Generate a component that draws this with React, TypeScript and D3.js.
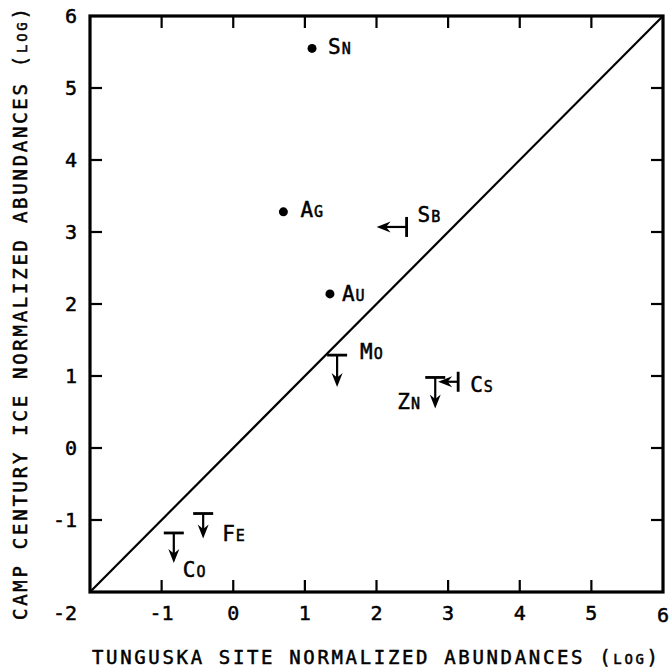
import React from 'react';
import * as d3 from 'd3';

// elements, log normalized abundances
const elements = ['Sn', 'Ag', 'Sb', 'Au', 'Mo', 'Cs', 'Zn', 'Fe', 'Co'];
const tunguska = [1.1, 0.7, 2.42, 1.35, 1.45, 3.14, 2.82, -0.42, -0.83];
const campCentury = [5.55, 3.28, 3.07, 2.14, 1.29, 0.92, 0.98, -0.91, -1.18];
// point = measured, xUpper = upper limit on tunguska, yUpper = upper limit on ice
const limitKind = ['point', 'point', 'xUpper', 'point', 'yUpper', 'xUpper', 'yUpper', 'yUpper', 'yUpper'];

const xTicks = [-1, 0, 1, 2, 3, 4, 5];
const yTicks = [-1, 0, 1, 2, 3, 4, 5];
const tickLabels = ['-1', '0', '1', '2', '3', '4', '5'];

// layout for annotations (pixels)
const labelOffsets = [[16, 6], [17, 5], [11, -5], [12, 7], [23, 4], [12, 10], [-38, 32], [19, 27], [9, 44]];
const arrowLen = [0, 0, 30, 0, 32, 20, 31, 25, 30];

const width = 672;
const height = 670;
const font = '"DejaVu Sans Mono", monospace';

const x = d3.scaleLinear().domain([-2, 6]).range([90, 663]);
const y = d3.scaleLinear().domain([-2, 6]).range([592, 16]);

const head = 'M0,0 L-5.5,-14 L0,-9.5 L5.5,-14 Z'; // points down, tip at origin

const Marker = ({ i }: { i: number }) => {
  const px = x(tunguska[i]);
  const py = y(campCentury[i]);
  const kind = limitKind[i];
  const len = arrowLen[i];
  if (kind === 'point') return <circle cx={px} cy={py} r={4.5} fill="#000" />;
  if (kind === 'yUpper') {
    return (
      <g stroke="#000">
        <line x1={px - 10} x2={px + 10} y1={py} y2={py} strokeWidth={2.8} />
        <line x1={px} x2={px} y1={py} y2={py + len - 6} strokeWidth={2.2} />
        <path d={head} transform={`translate(${px},${py + len})`} fill="#000" stroke="none" />
      </g>
    );
  }
  return (
    <g stroke="#000">
      <line x1={px} x2={px} y1={py - 10} y2={py + 10} strokeWidth={2.8} />
      <line x1={px} x2={px - len + 6} y1={py} y2={py} strokeWidth={2.2} />
      <path d={head} transform={`translate(${px - len},${py}) rotate(90)`} fill="#000" stroke="none" />
    </g>
  );
};

export default function App() {
  const x0 = x(-2), x1 = x(6), y0 = y(-2), y1 = y(6);
  const tl = 12;
  return (
    <svg width={width} height={height} style={{ position: 'absolute', left: 0, top: 0, background: '#fff' }}
      fontFamily={font}>
      <rect width={width} height={height} fill="#fff" />
      {/* frame */}
      <rect x={x0} y={y1} width={x1 - x0} height={y0 - y1} fill="none" stroke="#000" strokeWidth={3.2} />
      {/* ticks */}
      <g stroke="#000" strokeWidth={2.2}>
        {xTicks.map(t => (
          <g key={'x' + t}>
            <line x1={x(t)} x2={x(t)} y1={y0} y2={y0 - tl} />
            <line x1={x(t)} x2={x(t)} y1={y1} y2={y1 + tl} />
          </g>
        ))}
        {yTicks.map(t => (
          <g key={'y' + t}>
            <line x1={x0} x2={x0 + tl} y1={y(t)} y2={y(t)} />
            <line x1={x1} x2={x1 - tl} y1={y(t)} y2={y(t)} />
          </g>
        ))}
      </g>
      {/* 1:1 line */}
      <line x1={x(-2)} y1={y(-2)} x2={x(6)} y2={y(6)} stroke="#000" strokeWidth={2.2} />
      {/* tick labels */}
      <g fontSize={20} fill="#000" stroke="#000" strokeWidth={0.5}>
        {xTicks.map((t, i) => (
          <text key={'xl' + t} x={x(t)} y={620} textAnchor="middle">{tickLabels[i]}</text>
        ))}
        <text x={x(6)} y={622} textAnchor="middle">6</text>
        {yTicks.map((t, i) => (
          <text key={'yl' + t} x={77} y={y(t)} dy="0.36em" textAnchor="end">{tickLabels[i]}</text>
        ))}
        <text x={77} y={y(6)} dy="0.36em" textAnchor="end">6</text>
        <text x={77} y={620} textAnchor="end">-2</text>
      </g>
      {/* marks */}
      {elements.map((_, i) => <Marker key={i} i={i} />)}
      {/* labels */}
      <g fill="#000" stroke="#000" strokeWidth={0.5}>
        {elements.map((el, i) => (
          <text key={'lab' + el} x={x(tunguska[i]) + labelOffsets[i][0]} y={y(campCentury[i]) + labelOffsets[i][1]}>
            <tspan fontSize={21}>{el[0]}</tspan>
            <tspan fontSize={15} dx={1}>{el[1].toUpperCase()}</tspan>
          </text>
        ))}
      </g>
      {/* axis titles */}
      <g fill="#000" stroke="#000" strokeWidth={0.5}>
        <text x={92} y={664} fontSize={19} textLength={566} lengthAdjust="spacing">
          TUNGUSKA SITE NORMALIZED ABUNDANCES (<tspan fontSize={14}>LOG</tspan>)
        </text>
        <text transform="translate(27,620) rotate(-90)" fontSize={19} textLength={612} lengthAdjust="spacing">
          CAMP CENTURY ICE NORMALIZED ABUNDANCES (<tspan fontSize={14}>LOG</tspan>)
        </text>
      </g>
    </svg>
  );
}
